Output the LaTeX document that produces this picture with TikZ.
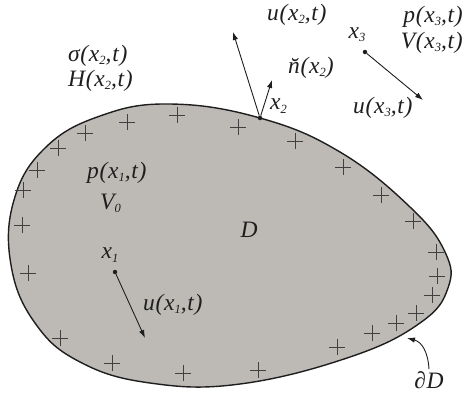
\documentclass[tikz,border=0pt]{standalone}
\usepackage{fontspec}
\setmainfont{Liberation Serif}
\usetikzlibrary{positioning,arrows.meta}
\definecolor{regionfill}{RGB}{189,186,182}
\definecolor{ink}{RGB}{30,30,30}
\newcommand{\sbs}[1]{\raisebox{-0.3ex}{\fontsize{12.5}{12.5}\selectfont #1}}
\tikzset{
  lbl/.style ={font=\fontsize{23.5}{26}\selectfont\itshape\addfontfeatures{LetterSpace=3},
               text=ink, inner sep=0pt},
  dot/.style ={circle, fill=ink, inner sep=0pt, minimum size=4.5pt},
  vec/.style ={-{Latex[length=8pt,width=5.5pt]}, draw=ink, line width=0.9pt},
  rim/.style ={draw=ink, line width=1.4pt, fill=regionfill},
  mk/.style  ={draw=ink!85, line width=0.8pt},
}

\begin{document}
\begin{tikzpicture}[x=1pt, y=-1pt]
  \useasboundingbox (0,0) rectangle (464,394);

  % --- region D and its boundary -------------------------------------
  \draw[rim] plot[smooth cycle, tension=0.7] coordinates {
      (170,104) (260,118) (340,152) (410,207) (445,252) (448,288)
      (420,323) (350,357) (240,384) (150,383) (80,362) (35,323)
      (11,265) (14,200) (45,148) (100,116)};

  % --- charges along the boundary ------------------------------------
  \foreach \a/\b in {127/122, 177/115, 238/127, 295/141, 343/167, 381/195,
                     413/221, 436/252, 437/276, 432/295, 416/313, 396/323,
                     372/333, 337/347, 258/370, 183/373, 112/363, 60/338,
                     28/273, 22/225, 23/190, 37/170, 58/148, 85/133}
    \draw[mk] (\a,\b) +(-8,0) -- +(8,0) +(0,-8) -- +(0,8);

  % --- points ---------------------------------------------------------
  \node[dot] (x1) at (115,272) {};
  \node[dot] (x2) at (260,118) {};
  \node[dot] (x3) at (365,52)  {};

  \coordinate (u1end) at (145,338);
  \coordinate (u2end) at (233,32);
  \coordinate (nend)  at (272,80);
  \coordinate (u3end) at (423,100);
  \coordinate (dDend) at (407,338);

  % --- labels ---------------------------------------------------------
  \node[lbl, anchor=west] (sig) at (68,56)  {σ(x\sbs{2},t)};
  \node[lbl, anchor=west] (Hx)  at (68,81)  {H(x\sbs{2},t)};
  \node[lbl, anchor=west] (u2)  at (267,15) {u(x\sbs{2},t)};
  \node[lbl, anchor=east] (p3)  at (463,17) {p(x\sbs{3},t)};
  \node[lbl, anchor=east] (V3)  at (463,43) {V(x\sbs{3},t)};
  \node[lbl] (x3lbl) at (357,35) {x\sbs{3}};
  \node[lbl, anchor=west] (nx)  at (288,68) {\u{n}(x\sbs{2})};
  \node[lbl, anchor=west] (x2lbl) at (270,106) {x\sbs{2}};
  \node[lbl, anchor=west] (u3)  at (353,108) {u(x\sbs{3},t)};
  \node[lbl, anchor=west] (p1)  at (87,173) {p(x\sbs{1},t)};
  \node[lbl, anchor=west] (V0)  at (100,203) {V\sbs{0}};
  \node[lbl] (x1lbl) at (110,255) {x\sbs{1}};
  \node[lbl] (Dlbl)  at (249,230) {D};
  \node[lbl, anchor=west] (u1)  at (143,305) {u(x\sbs{1},t)};
  \node[lbl, inner sep=2pt] (dD) at (429,380) {∂D};

  % --- vectors --------------------------------------------------------
  \draw[vec] (x1) -- (u1end);
  \draw[vec] (x2) -- (u2end);
  \draw[vec] (x2) -- (nend);
  \draw[vec] (x3) -- (u3end);
  \draw[vec] (dD.north) .. controls (428,352) and (422,342) .. (dDend);
\end{tikzpicture}
\end{document}
